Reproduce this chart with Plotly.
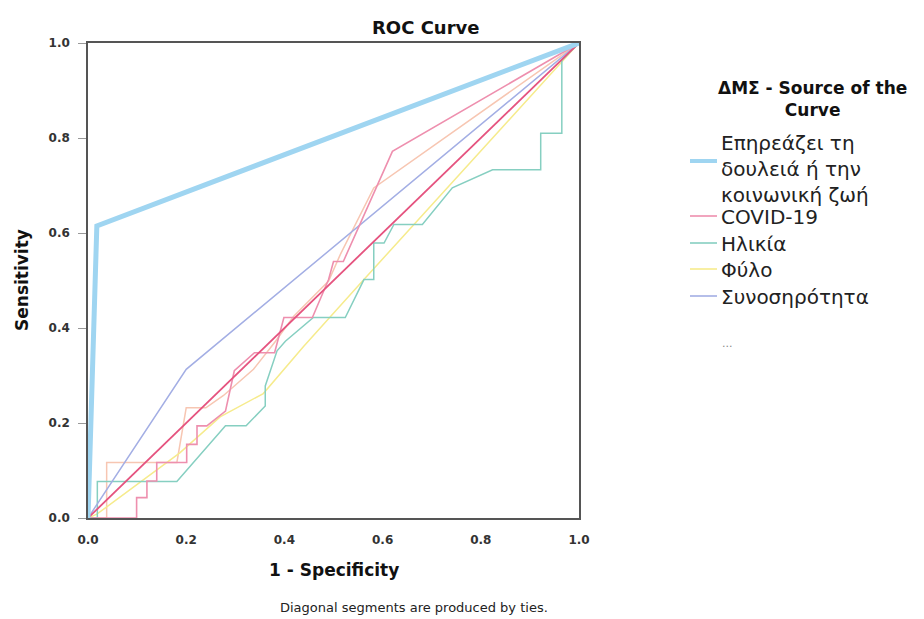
import plotly.graph_objects as go

# ---- data ----
blue_x = [0, 0.018, 1]
blue_y = [0, 0.615, 1]

covid_x = [0, 0.099, 0.099, 0.12, 0.12, 0.14, 0.14, 0.201, 0.201, 0.222, 0.222, 0.242, 0.28, 0.298,
           0.339, 0.38, 0.399, 0.457, 0.49, 0.5, 0.52, 0.62, 1]
covid_y = [0, 0, 0.043, 0.043, 0.078, 0.078, 0.117, 0.117, 0.155, 0.155, 0.194, 0.194, 0.225, 0.31,
           0.348, 0.348, 0.422, 0.422, 0.502, 0.54, 0.54, 0.772, 1]

age_x = [0, 0.019, 0.019, 0.181, 0.28, 0.322, 0.361, 0.361, 0.385, 0.402, 0.459, 0.524, 0.562, 0.582,
         0.582, 0.603, 0.623, 0.681, 0.742, 0.824, 0.922, 0.922, 0.965, 0.965, 1]
age_y = [0, 0, 0.077, 0.077, 0.194, 0.194, 0.236, 0.278, 0.352, 0.372, 0.422, 0.422, 0.502, 0.502,
         0.579, 0.579, 0.618, 0.618, 0.695, 0.733, 0.733, 0.81, 0.81, 0.964, 1]

sex_x = [0, 0.018, 0.187, 0.269, 0.357, 0.439, 0.561, 0.839, 1]
sex_y = [0, 0.008, 0.137, 0.213, 0.262, 0.361, 0.501, 0.817, 1]

comorb_x = [0, 0.2, 1]
comorb_y = [0, 0.313, 1]

other_x = [0, 0.038, 0.038, 0.181, 0.2, 0.24, 0.276, 0.337, 0.382, 0.419, 0.49, 0.514, 0.582, 1]
other_y = [0, 0, 0.117, 0.117, 0.232, 0.232, 0.258, 0.313, 0.372, 0.425, 0.499, 0.555, 0.695, 1]

ref_x = [0, 1]
ref_y = [0, 1]

tick_vals = [0, 0.2, 0.4, 0.6, 0.8, 1.0]
tick_text = ["0.0", "0.2", "0.4", "0.6", "0.8", "1.0"]

legend_names = ["Επηρεάζει τη<br>δουλειά ή την<br>κοινωνική ζωή", "COVID-19", "Ηλικία", "Φύλο", "Συνοσηρότητα"]

C_BLUE = "#9fd5f1"
C_COVID = "#ee8fae"
C_AGE = "#86cfc1"
C_SEX = "#f6eb8c"
C_COMORB = "#a3aee4"
C_OTHER = "#f7c6b2"
C_REF = "#e5537f"

FONT = "DejaVu Sans"

fig = go.Figure()
fig.add_trace(go.Scatter(x=other_x, y=other_y, mode="lines", line=dict(color=C_OTHER, width=1.5), showlegend=False))
fig.add_trace(go.Scatter(x=sex_x, y=sex_y, mode="lines", line=dict(color=C_SEX, width=1.5), showlegend=False))
fig.add_trace(go.Scatter(x=age_x, y=age_y, mode="lines", line=dict(color=C_AGE, width=1.5), showlegend=False))
fig.add_trace(go.Scatter(x=comorb_x, y=comorb_y, mode="lines", line=dict(color=C_COMORB, width=1.5), showlegend=False))
fig.add_trace(go.Scatter(x=covid_x, y=covid_y, mode="lines", line=dict(color=C_COVID, width=1.6), showlegend=False))
fig.add_trace(go.Scatter(x=ref_x, y=ref_y, mode="lines", line=dict(color=C_REF, width=1.8), showlegend=False))
fig.add_trace(go.Scatter(x=blue_x, y=blue_y, mode="lines", line=dict(color=C_BLUE, width=5), showlegend=False))

L, R, T, B = 88, 345, 43, 101
W, H = 924, 619
pw = W - L - R
ph = H - T - B

def px(xp):
    return (xp - L) / pw

def py(yp):
    return (H - B - yp) / ph

fig.update_layout(
    width=W, height=H,
    margin=dict(l=L, r=R, t=T, b=B),
    paper_bgcolor="white", plot_bgcolor="white",
    font=dict(family=FONT, color="#222"),
    showlegend=False,
)
fig.update_xaxes(range=[0, 1], tickvals=tick_vals, ticktext=tick_text, showgrid=False, zeroline=False,
                 showline=True, mirror=True, linecolor="#555", linewidth=1.5, ticks="",
                 ticklabelstandoff=10,
                 tickfont=dict(family=FONT, size=12, color="#333", weight="bold"))
fig.update_yaxes(range=[0, 1], tickvals=tick_vals, ticktext=tick_text, showgrid=False, zeroline=False,
                 showline=True, mirror=True, linecolor="#555", linewidth=1.5, ticks="outside",
                 ticklen=8, tickcolor="#999", tickwidth=1, ticklabelstandoff=6,
                 tickfont=dict(family=FONT, size=12, color="#333", weight="bold"))

ann = []
ann.append(dict(text="<b>ROC Curve</b>", x=px(425), y=py(27), xref="paper", yref="paper",
                showarrow=False, font=dict(size=18, color="#111"), xanchor="center", yanchor="middle"))
ann.append(dict(text="<b>1 - Specificity</b>", x=px(334), y=py(570), xref="paper", yref="paper",
                showarrow=False, font=dict(size=17, color="#111"), xanchor="center", yanchor="middle"))
ann.append(dict(text="<b>Sensitivity</b>", x=px(22), y=py(280), xref="paper", yref="paper", textangle=-90,
                showarrow=False, font=dict(size=17, color="#111"), xanchor="center", yanchor="middle"))
ann.append(dict(text="Diagonal segments are produced by ties.", x=px(414), y=py(607), xref="paper", yref="paper",
                showarrow=False, font=dict(size=13, color="#222"), xanchor="center", yanchor="middle"))
# legend title
ann.append(dict(text="<b>ΔΜΣ - Source of the<br>Curve</b>", x=px(812), y=py(99), xref="paper", yref="paper",
                showarrow=False, font=dict(size=17, color="#111"), xanchor="center", yanchor="middle",
                align="center"))

# legend entries
entry_pos = [169, 217, 244, 270, 297]
for txt, yy in zip(legend_names, entry_pos):
    ann.append(dict(text=txt, x=px(719), y=py(yy), xref="paper", yref="paper", showarrow=False,
                    font=dict(size=20, color="#222"), xanchor="left", yanchor="middle", align="left"))
ann.append(dict(text="...", x=px(720), y=py(343), xref="paper", yref="paper", showarrow=False,
                font=dict(size=11, color="#888"), xanchor="left", yanchor="middle"))
fig.update_layout(annotations=ann)

samples = [(C_BLUE, 4, 161), (C_COVID, 1.6, 216), (C_AGE, 1.6, 243), (C_SEX, 1.6, 269), (C_COMORB, 1.6, 296)]
shapes = []
for col, w, yy in samples:
    shapes.append(dict(type="line", xref="paper", yref="paper", x0=px(690), x1=px(717), y0=py(yy), y1=py(yy),
                       line=dict(color=col, width=w)))
fig.update_layout(shapes=shapes)

fig.write_html("out.html")
